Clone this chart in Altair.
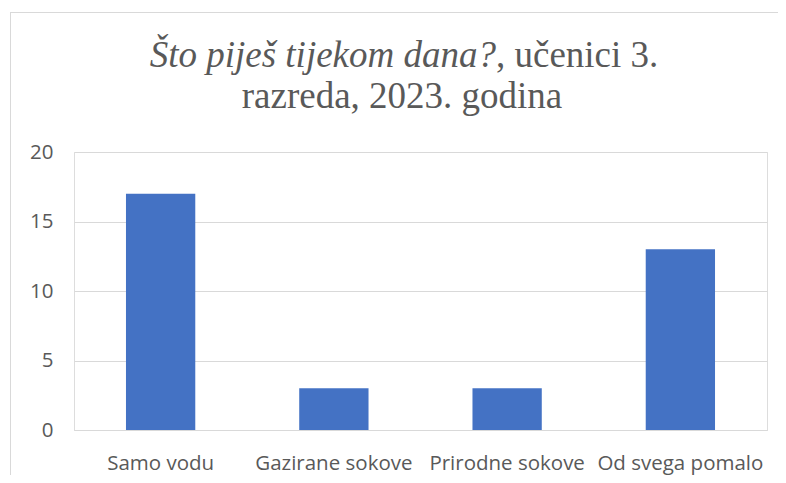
import altair as alt
import pandas as pd

categories = ["Samo vodu", "Gazirane sokove", "Prirodne sokove", "Od svega pomalo"]
values = [17, 3, 3, 13]
title_italic = ["Što piješ tijekom dana?"]
title_regular = [", učenici 3."]
title_line2 = ["razreda, 2023. godina"]

df = pd.DataFrame({"kategorija": categories, "broj": values})

W, H = 693, 278
GRAY = "#595959"
GRID = "#d9d9d9"

bars = alt.Chart(df).mark_bar(color="#4472C4").encode(
    x=alt.X("kategorija:N", sort=categories, title=None,
            scale=alt.Scale(paddingInner=0.6, paddingOuter=0.3),
            axis=alt.Axis(labelAngle=0, labelFont="Open Sans", labelFontSize=20.5,
                          labelColor=GRAY, ticks=False, tickSize=0, domain=True,
                          domainColor=GRID, labelPadding=39,
                          labelBaseline="alphabetic", grid=False)),
    y=alt.Y("broj:Q", title=None,
            scale=alt.Scale(domain=[0, 20]),
            axis=alt.Axis(values=[0, 5, 10, 15, 20], labelFont="Open Sans",
                          labelFontSize=20.5, labelColor=GRAY, ticks=False,
                          tickSize=0, domain=False, gridColor=GRID,
                          labelPadding=21)),
)

top_edge = alt.Chart(df.head(1)).mark_rule(color=GRID, strokeWidth=1).encode(
    x=alt.value(-64), x2=alt.value(800), y=alt.value(-139.5)
)
left_edge = alt.Chart(df.head(1)).mark_rule(color=GRID, strokeWidth=1).encode(
    x=alt.value(-63.5), y=alt.value(-140), y2=alt.value(400)
)

t1 = alt.Chart(pd.DataFrame({"t": title_italic})).mark_text(
    font="Liberation Serif", fontSize=37, fontStyle="italic", color=GRAY,
    align="right", baseline="alphabetic"
).encode(text="t:N", x=alt.value(422), y=alt.value(-85))

t2 = alt.Chart(pd.DataFrame({"t": title_regular})).mark_text(
    font="Liberation Serif", fontSize=37, color=GRAY,
    align="left", baseline="alphabetic"
).encode(text="t:N", x=alt.value(422), y=alt.value(-85))

t3 = alt.Chart(pd.DataFrame({"t": title_line2})).mark_text(
    font="Liberation Serif", fontSize=37, color=GRAY,
    align="center", baseline="alphabetic"
).encode(text="t:N", x=alt.value(328), y=alt.value(-44))

chart = alt.layer(top_edge, left_edge, bars, t1, t2, t3).properties(
    width=W, height=H,
    autosize=alt.AutoSizeParams(type="none"),
    padding={"left": 66, "top": 144, "right": 11, "bottom": 45},
).configure_view(stroke=None).configure(background="white")

chart.save("out.html", embed_options={"renderer": "svg", "actions": False})
